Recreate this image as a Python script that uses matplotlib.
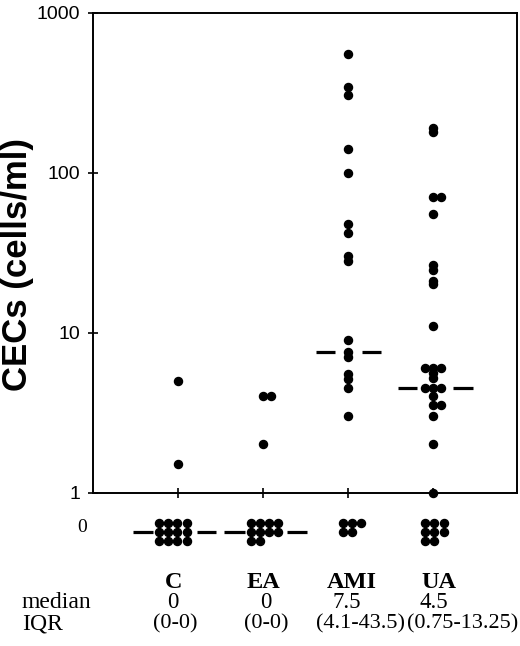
import matplotlib
matplotlib.use("Agg")
import matplotlib.pyplot as plt
import matplotlib.transforms as mtransforms
from collections import Counter

# ---------------- data ----------------
groups = ["C", "EA", "AMI", "UA"]
positive_values = {
    "C": [5, 1.5],
    "EA": [4, 4, 2],
    "AMI": [550, 340, 305, 140, 100, 48, 42, 30, 28, 9, 7.5, 7, 5.5, 5.1, 4.5, 3],
    "UA": [190, 180, 70, 70, 55, 26.5, 24.5, 21, 20, 11, 6, 6, 6, 5.6, 5.2,
           4.5, 4.5, 4.5, 4, 3.5, 3.5, 3, 2, 1],
}
zero_counts = [12, 10, 5, 8]
medians = [0, 0, 7.5, 4.5]
median_labels = ["0", "0", "7.5", "4.5"]
iqr_labels = ["(0-0)", "(0-0)", "(4.1-43.5)", "(0.75-13.25)"]
y_ticks = [1, 10, 100, 1000]
y_tick_labels = ["1", "10", "100", "1000"]

# ---------------- layout ----------------
W, H = 520, 646
fig = plt.figure(figsize=(W / 100, H / 100), dpi=100)
ax_left, ax_right, ax_top, ax_bot = 93.3, 516.7, 12.5, 492.5
ax = fig.add_axes([ax_left / W, 1 - ax_bot / H, (ax_right - ax_left) / W, (ax_bot - ax_top) / H])
ax2 = fig.add_axes([ax_left / W, 1 - 551.7 / H, (ax_right - ax_left) / W, 40 / H])

xpos = [1, 2, 3, 4]
px = 1 / 85.0  # one pixel in x data units
dot_step = 0.107
ms = 5.8
sans = ["Liberation Sans", "DejaVu Sans"]
serif = ["Liberation Serif", "DejaVu Serif"]

ax.set_yscale("log")
ax.set_ylim(1, 1000)
ax.set_xlim(0, 4.98)
ax.set_yticks(y_ticks)
ax.set_yticklabels(y_tick_labels, fontfamily=sans, fontsize=14)
ax.yaxis.set_minor_locator(matplotlib.ticker.NullLocator())
ax.set_xticks(xpos)
ax.set_xticklabels([])
ax.tick_params(direction="inout", length=7, width=1.2, pad=6, colors="black")
for s in ax.spines.values():
    s.set_linewidth(1.4)

# positive values: ties spread horizontally
for g, x in zip(groups, xpos):
    cnt = Counter(positive_values[g])
    for v, n in cnt.items():
        offs = {1: [0], 2: [0, 1], 3: [-1, 0, 1]}.get(n, list(range(n)))
        for o in offs:
            ax.plot(x + o * dot_step * 0.88, v, "o", color="black", ms=ms, clip_on=False, zorder=3)

# zero row
ax2.set_xlim(0, 4.98)
ax2.set_ylim(-2.2, 2.2)
ax2.axis("off")
grid_cols = [4, 4, 3, 3]
grid_start = [-0.224, -0.148, -0.068, -0.094]
for x, n, nc, st in zip(xpos, zero_counts, grid_cols, grid_start):
    for i in range(n):
        r, c = divmod(i, nc)
        ax2.plot(x + st + c * dot_step, 1 - r, "o", color="black", ms=ms, clip_on=False)

# median lines (split around the dots)
median_segments = [
    ((-0.536, -0.294), (0.216, 0.444)),
    ((-0.462, -0.215), (0.279, 0.514)),
    ((-0.38, -0.156), (0.161, 0.385)),
    ((-0.415, -0.188), (0.235, 0.464)),
]
for x, m, segs in zip(xpos, medians, median_segments):
    target = ax2 if m == 0 else ax
    yv = 0 if m == 0 else m
    for a, b in segs:
        target.plot([x + a, x + b], [yv, yv], color="black", lw=2.3, solid_capstyle="butt", clip_on=False)

# zero label
fig.text(81.7 / W, 1 - 527 / H, "0", ha="center", va="center", fontfamily=serif, fontsize=14)

# y label
fig.text(18 / W, 1 - 264 / H, "CECs (cells/ml)", rotation=90, ha="center", va="center",
         fontfamily=sans, fontweight="bold", fontsize=25)

# bottom table
name_dx = [-5, 0, 3.5, 6]
med_dx = [-6, 2, -1.5, 0]
iqr_dx = [-3, 3, 12, 29]
trans = mtransforms.blended_transform_factory(ax.transData, fig.transFigure)
for i, (x, g, med, iqr) in enumerate(zip(xpos, groups, median_labels, iqr_labels)):
    ax.text(x + name_dx[i] * px, 1 - 583 / H, g, transform=trans, ha="center", va="center",
            fontfamily=serif, fontweight="bold", fontsize=17.5)
    ax.text(x + med_dx[i] * px, 1 - 602 / H, med, transform=trans, ha="center", va="center",
            fontfamily=serif, fontsize=16.5)
    ax.text(x + iqr_dx[i] * px, 1 - 624 / H, iqr, transform=trans, ha="center", va="center",
            fontfamily=serif, fontsize=16)
fig.text(21.7 / W, 1 - 602 / H, "median", ha="left", va="center", fontfamily=serif, fontsize=17)
fig.text(21.7 / W, 1 - 624 / H, "IQR", ha="left", va="center", fontfamily=serif, fontsize=17)

fig.savefig("out.png", dpi=100, facecolor="white")
